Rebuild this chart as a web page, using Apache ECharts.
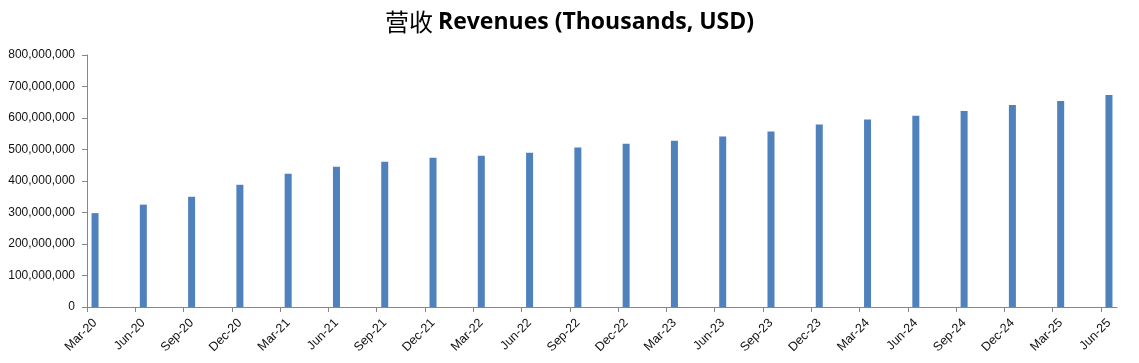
<!DOCTYPE html>
<html><head><meta charset="utf-8">
<script src="https://cdn.jsdelivr.net/npm/echarts@6/dist/echarts.min.js"></script>
<style>html,body{margin:0;padding:0;background:#fff}#c{width:1139px;height:363px}</style>
</head><body><div id="c"></div>
<script>
const quarters = ['Mar-20','Jun-20','Sep-20','Dec-20','Mar-21','Jun-21','Sep-21','Dec-21','Mar-22','Jun-22','Sep-22','Dec-22','Mar-23','Jun-23','Sep-23','Dec-23','Mar-24','Jun-24','Sep-24','Dec-24','Mar-25','Jun-25'];
const revenues = [298e6,325e6,350e6,388e6,423e6,445e6,461e6,474e6,480e6,490e6,506e6,518e6,528e6,541e6,557e6,579e6,595e6,607e6,622e6,641e6,654e6,673e6];
const yTicks = [0,100e6,200e6,300e6,400e6,500e6,600e6,700e6,800e6];

// monthly date-axis slots (Excel-style date axis, base unit = month)
const monNames = ['Jan','Feb','Mar','Apr','May','Jun','Jul','Aug','Sep','Oct','Nov','Dec'];
const nMonths = (quarters.length - 1) * 3 + 1;
const slots = [];
for (let k = 0; k <= nMonths; k++) {
  const m = 2 + k; // start at March 2020
  slots.push(monNames[m % 12] + '-' + String(20 + Math.floor(m / 12)));
}
const barCats = slots.slice(0, nMonths);
const barData = barCats.map(() => null);
quarters.forEach((q, i) => { barData[barCats.indexOf(q)] = revenues[i]; });

const chart = echarts.init(document.getElementById('c'), null, {renderer: 'canvas'});
const fmt = v => v.toLocaleString('en-US');
chart.setOption({
  animation: false,
  title: {
    text: '{cn|营收} {en|Revenues (Thousands, USD)}',
    left: 'center', top: 5,
    textStyle: {
      rich: {
        cn: {fontFamily: 'Noto Sans CJK SC', fontSize: 24, fontWeight: 'normal', color: '#000'},
        en: {fontFamily: 'Open Sans', fontSize: 23, fontWeight: 'bold', color: '#000'}
      }
    }
  },
  grid: {left: 87, right: 22, top: 55, bottom: 56, containLabel: false},
  xAxis: [{
    type: 'category', data: barCats, boundaryGap: true,
    axisLine: {show: false}, axisTick: {show: false},
    axisLabel: {interval: 2, rotate: 45, margin: 14, fontSize: 12.5, color: '#111',
      fontFamily: 'Liberation Sans'}
  }, {
    type: 'category', data: slots, boundaryGap: false, position: 'bottom',
    axisLine: {show: true, lineStyle: {color: '#868686', width: 1}},
    axisTick: {show: true, interval: 2, length: 5, lineStyle: {color: '#868686'}},
    axisLabel: {show: false},
    splitLine: {show: false}
  }],
  yAxis: {
    type: 'value', min: yTicks[0], max: yTicks[yTicks.length - 1], interval: yTicks[1] - yTicks[0],
    axisLine: {show: true, lineStyle: {color: '#868686'}},
    axisTick: {show: true, length: 5, lineStyle: {color: '#868686'}},
    axisLabel: {formatter: fmt, fontSize: 12, color: '#111', margin: 12, fontFamily: 'Liberation Sans'},
    splitLine: {show: false}
  },
  series: [{
    type: 'bar', xAxisIndex: 0, data: barData, barWidth: 7,
    itemStyle: {color: '#4F81BD'}
  }]
});
</script></body></html>
